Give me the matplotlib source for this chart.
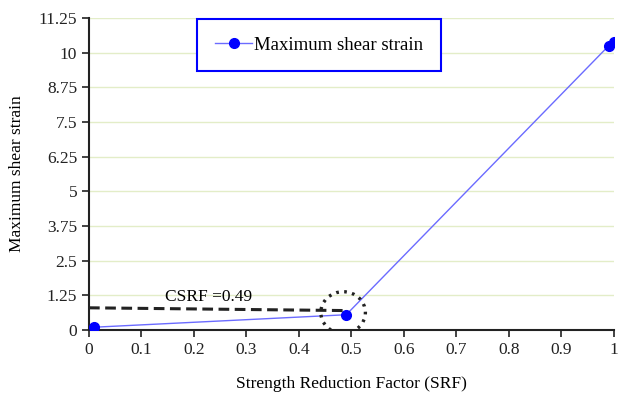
import numpy as np
import matplotlib.pyplot as plt
from matplotlib.patches import Ellipse

plt.rcParams['font.family'] = ['Liberation Serif', 'DejaVu Serif']

# SRF vs maximum shear strain
srf = [0.01, 0.49, 0.99, 1.0]
strain = [0.1, 0.55, 10.25, 10.4]

# critical SRF marker
csrf = 0.49
dash_x = [0.0, 0.49]
dash_y = [0.8, 0.7]

yticks = [0, 1.25, 2.5, 3.75, 5, 6.25, 7.5, 8.75, 10, 11.25]
ylabels = ['0', '1.25', '2.5', '3.75', '5', '6.25', '7.5', '8.75', '10', '11.25']
xticks = [0, 0.1, 0.2, 0.3, 0.4, 0.5, 0.6, 0.7, 0.8, 0.9, 1.0]
xlabels = ['0', '0.1', '0.2', '0.3', '0.4', '0.5', '0.6', '0.7', '0.8', '0.9', '1']

fig = plt.figure(figsize=(6.18, 3.96), dpi=100)
ax = fig.add_axes([0.144, 0.1667, 0.8495, 0.7878])

ax.plot(srf, strain, color='#6b6bff', lw=1.0, marker='o', ms=7,
        mfc='#0000ff', mec='#0000ff', label='Maximum shear strain', zorder=3)

ax.plot(dash_x, dash_y, color='#222222', lw=2.2, ls=(0, (3.5, 1.8)), zorder=4)
ax.add_patch(Ellipse((0.484, 0.63), 0.085, 1.5, fill=False, ec='#222222',
                     lw=2.4, ls=(0, (0.8, 1.6)), zorder=4))
ax.text(0.145, 1.05, 'CSRF =' + str(csrf), fontsize=12.5)

ax.set_xlim(0, 1)
ax.set_ylim(0, 11.25)
ax.set_xticks(xticks)
ax.set_xticklabels(xlabels)
ax.set_yticks(yticks)
ax.set_yticklabels(ylabels)
ax.tick_params(direction='out', length=5, width=1.2, labelsize=12.5, colors='#222222')
ax.yaxis.grid(True, color='#e3edc8', lw=1.0)
ax.set_axisbelow(True)
for s in ['top', 'right']:
    ax.spines[s].set_visible(False)
for s in ['left', 'bottom']:
    ax.spines[s].set_linewidth(1.5)
    ax.spines[s].set_color('#222222')

ax.set_xlabel('Strength Reduction Factor (SRF)', fontsize=12.5, labelpad=13)
ax.set_ylabel('Maximum shear strain', fontsize=12.5, labelpad=10)

leg = ax.legend(loc='upper left', bbox_to_anchor=(0.206, 0.998), fontsize=13.5,
                fancybox=False, edgecolor='#0000ff', framealpha=1,
                borderpad=0.95, handlelength=2.0, handletextpad=0.1,
                borderaxespad=0)
leg.get_frame().set_linewidth(1.5)

fig.savefig('out.png', dpi=100)
